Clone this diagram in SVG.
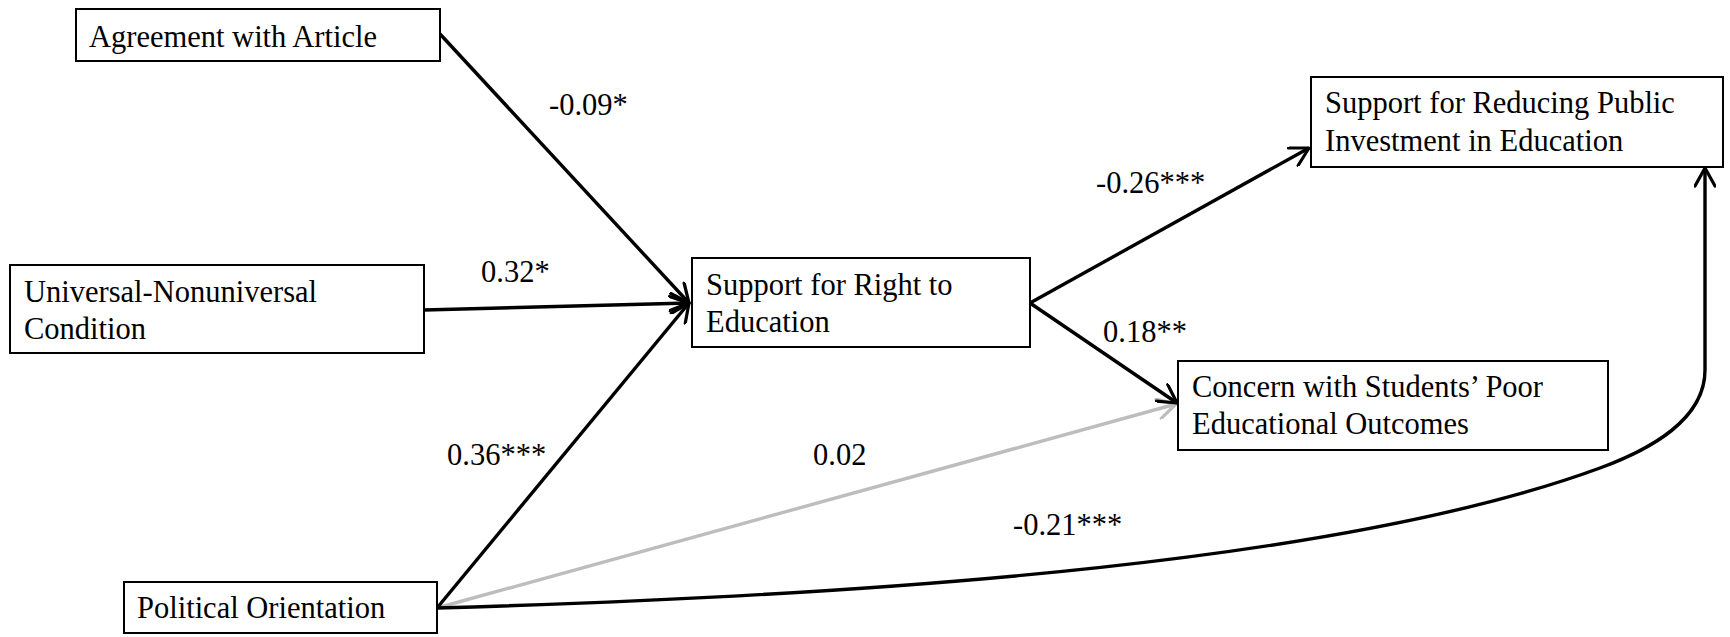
<svg xmlns="http://www.w3.org/2000/svg" width="1730" height="637" viewBox="0 0 1730 637">
<style>
.box{fill:#fff;stroke:#000;stroke-width:2}
.t{font-family:"Liberation Serif","Times New Roman",serif;font-size:30.5px;fill:#000}
.c{fill:none;stroke:#000;stroke-width:3.4}
.g{fill:none;stroke:#bdbdbd;stroke-width:3.4}
</style>
<defs>
<marker id="ah" markerUnits="userSpaceOnUse" viewBox="0 0 22 22" markerWidth="22" markerHeight="22" refX="20" refY="11" orient="auto">
<path d="M2,1 L20,11 L2,21" fill="none" stroke="#000" stroke-width="3.2" stroke-linejoin="round" stroke-linecap="round"/>
</marker>
<marker id="ahg" markerUnits="userSpaceOnUse" viewBox="0 0 22 22" markerWidth="22" markerHeight="22" refX="20" refY="11" orient="auto">
<path d="M2,1 L20,11 L2,21" fill="none" stroke="#bdbdbd" stroke-width="3.2" stroke-linejoin="round" stroke-linecap="round"/>
</marker>
</defs>
<rect width="1730" height="637" fill="#fff"/>
<g id="connectors">
<line class="g" x1="437" y1="608" x2="1176" y2="404" marker-end="url(#ahg)"/>
<line class="c" x1="440" y1="34" x2="689" y2="303" marker-end="url(#ah)"/>
<line class="c" x1="424" y1="310" x2="689" y2="303" stroke-width="4" marker-end="url(#ah)"/>
<line class="c" x1="437" y1="608" x2="689" y2="303" marker-end="url(#ah)"/>
<line class="c" x1="1030" y1="303" x2="1309" y2="148" marker-end="url(#ah)"/>
<line class="c" x1="1030" y1="303" x2="1177" y2="403" marker-end="url(#ah)"/>
<path class="c" d="M437,608 C900,595 1350,560 1600,468 C1650,449.5 1705,420 1705,370 L1705,168" marker-end="url(#ah)"/>
<text class="t" x="549" y="115">-0.09*</text>
<text class="t" x="481" y="282">0.32*</text>
<text class="t" x="447" y="465">0.36***</text>
<text class="t" x="1096" y="193">-0.26***</text>
<text class="t" x="1103" y="342">0.18**</text>
<text class="t" x="813" y="465">0.02</text>
<text class="t" x="1013" y="535">-0.21***</text>
</g>
<g id="agreement">
<rect class="box" x="76" y="9" width="364" height="52"/>
<text class="t" x="89" y="47">Agreement with Article</text>
</g>
<g id="universal">
<rect class="box" x="10" y="265" width="414" height="88"/>
<text class="t" x="24" y="302">Universal-Nonuniversal</text>
<text class="t" x="24" y="339">Condition</text>
</g>
<g id="support-right">
<rect class="box" x="692" y="258" width="338" height="89"/>
<text class="t" x="706" y="295">Support for Right to</text>
<text class="t" x="706" y="332">Education</text>
</g>
<g id="support-reducing">
<rect class="box" x="1311" y="77" width="412" height="90"/>
<text class="t" x="1325" y="113">Support for Reducing Public</text>
<text class="t" x="1325" y="151">Investment in Education</text>
</g>
<g id="concern">
<rect class="box" x="1178" y="361" width="430" height="89"/>
<text class="t" x="1192" y="397">Concern with Students’ Poor</text>
<text class="t" x="1192" y="434">Educational Outcomes</text>
</g>
<g id="political">
<rect class="box" x="124" y="582" width="313" height="51"/>
<text class="t" x="137" y="618">Political Orientation</text>
</g>
</svg>
